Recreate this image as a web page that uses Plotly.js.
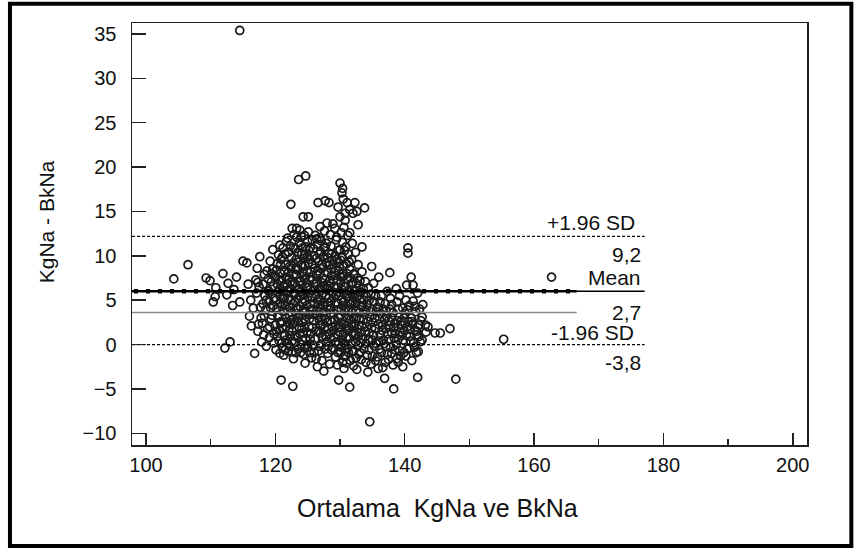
<!DOCTYPE html>
<html><head><meta charset="utf-8">
<script src="https://cdn.plot.ly/plotly-3.0.1.min.js"></script>
<style>html,body{margin:0;padding:0;background:#fff}#chart{width:855px;height:549px}</style>
</head><body><div id="chart"></div>
<script>
// Each pair: [mean of KgNa and BkNa, KgNa - BkNa] — outer and scattered points
const points = [
[104.3,7.4],[106.5,9.0],[109.3,7.5],[109.9,7.2],[110.4,4.8],[110.7,5.4],[110.8,6.4],[111.9,8.0],[112.2,-0.4],[112.5,5.6],[112.7,6.9],[113.0,0.3],[113.4,4.4],[113.6,6.2],[114.0,7.6],[114.5,4.8],[114.5,35.4],[115.0,9.4],[115.6,9.2],
[116.0,3.2],[116.2,5.0],[115.8,6.8],[116.3,2.1],
[116.8,-1.0],[116.6,4.1],[117.0,7.3],
[117.2,8.6],[117.3,1.5],[117.1,5.8],
[117.6,9.9],[117.8,3.0],[117.5,6.5],[117.9,0.3],
[118.1,4.6],[118.3,7.9],[118.0,2.4],[118.4,5.5],
[118.6,-0.2],[118.8,1.8],[118.5,3.9],[118.9,6.1],[118.7,8.3],
[119.1,0.8],[119.3,2.9],[119.0,4.9],[119.4,7.1],[119.2,9.4],
[119.6,10.7],[119.8,1.2],[119.5,3.3],[119.9,5.2],[119.7,6.6],[119.6,8.5],
[120.1,-0.6],[120.3,0.9],[120.0,2.2],[120.2,4.0],[120.4,5.9],[120.1,7.6],[120.3,9.1],
[120.6,1.6],[120.5,3.1],[120.7,4.7],[120.6,6.2],[120.8,8.0],[120.5,10.1],[120.7,11.2],
[120.9,-4.0],[121.0,0.2],[120.9,2.6],[121.1,5.3],[121.0,7.2],[120.9,9.6],
[121.2,10.9],[121.3,-1.2],[121.4,1.1],[121.2,3.7],[121.3,6.0],[121.4,8.3],
[121.6,0.5],[121.7,2.0],[121.5,4.4],[121.8,6.8],[121.6,9.0],[121.7,11.6],[121.9,12.0],
[122.0,-0.8],[122.1,1.5],[122.2,3.2],[122.0,5.1],[122.1,7.4],[122.2,8.8],[122.0,10.4],
[122.4,15.8],[122.5,2.8],[122.3,4.1],[122.4,6.3],[122.5,9.8],[122.3,11.1],
[122.7,-4.7],[122.8,-1.6],[122.6,0.4],[122.7,2.3],[122.9,5.6],[122.8,7.9],[122.6,13.1],[122.9,12.4],
[123.1,-0.9],[123.0,1.0],[123.2,3.5],[123.1,4.8],[123.0,6.9],[123.2,8.6],[123.1,10.8],[123.3,13.1],
[123.6,18.6],[123.5,-0.5],[123.7,1.9],[123.6,3.0],[123.5,5.2],[123.8,7.1],[123.6,9.3],[123.7,11.5],[123.8,12.9],
[124.0,0.0],[124.1,2.5],[123.9,4.3],[124.0,6.0],[124.2,8.1],[124.1,10.2],[124.0,12.2],
[124.3,14.4],[124.4,-1.1],[124.3,1.3],[124.4,3.8],[124.2,5.7],[124.3,7.7],[124.4,9.7],
[124.6,-2.1],[124.7,0.7],[124.5,2.9],[124.6,4.9],[124.8,6.5],[124.6,8.9],[124.7,11.0],
[124.7,19.0],
[125.1,14.4],[125.1,12.7],[125.0,-0.3],[125.2,2.0],[125.1,3.4],[125.0,5.4],[125.3,7.3],[125.1,9.2],[125.2,10.6],
[125.5,1.2],[125.6,4.0],[125.4,6.2],[125.5,8.2],[125.7,11.8],[125.6,-1.5],
[126.0,-0.9],[126.1,0.6],[125.9,2.7],[126.0,4.6],[126.2,6.8],[126.1,8.6],[126.0,10.0],[126.2,12.3],
[126.6,16.0],[126.5,-2.5],[126.7,1.5],[126.5,3.3],[126.6,5.1],[126.4,7.0],[126.7,9.4],[126.5,11.3],
[126.9,13.3],[126.9,-0.2],[127.0,2.2],[126.8,4.1],[127.0,6.1],[126.9,8.0],[127.0,10.5],[126.8,12.0],
[127.2,-1.8],[127.3,0.9],[127.1,3.0],[127.2,5.6],[127.3,7.5],[127.2,9.0],[127.1,11.7],
[127.5,-3.0],[127.6,1.8],[127.4,3.6],[127.5,4.8],[127.6,6.5],[127.4,8.7],[127.5,10.9],[127.6,12.8],
[127.7,16.2],
[128.0,13.7],[128.1,-1.0],[127.9,0.3],[128.0,2.5],[128.1,4.4],[127.9,6.3],[128.0,8.2],[128.1,9.8],[127.9,11.4],
[128.3,16.0],[128.4,-2.2],[128.3,1.2],[128.5,3.4],[128.2,5.2],[128.4,7.2],[128.3,10.3],[128.5,12.4],
[128.7,-0.6],[128.8,2.0],[128.6,4.0],[128.9,5.9],[128.7,7.8],[128.8,9.5],[128.6,11.1],[128.9,13.6],
[129.2,13.1],[129.3,-1.4],[129.1,0.8],[129.2,2.8],[129.4,4.7],[129.1,6.6],[129.3,8.4],[129.2,10.0],[129.4,11.8],
[129.7,15.5],[129.6,-2.3],[129.8,0.1],[129.7,1.9],[129.5,3.9],[129.8,5.5],[129.6,7.3],[129.7,9.3],[129.5,12.1],
[129.8,-4.0],
[130.0,18.2],[130.0,14.4],[130.1,-0.9],[129.9,1.4],[130.0,3.2],[130.2,5.0],[130.1,6.9],[129.9,8.8],[130.0,10.7],[130.2,12.6],
[130.3,17.1],[130.4,-2.0],[130.3,0.5],[130.2,2.5],[130.4,4.4],[130.3,6.2],[130.5,8.0],[130.3,9.9],[130.4,11.5],
[130.4,17.6],
[130.5,16.4],[130.6,-2.7],[130.5,1.1],[130.7,3.7],[130.6,5.8],[130.5,7.7],[130.6,13.2],
[130.8,14.8],[130.8,14.0],[130.9,-1.3],[130.8,0.0],[131.0,2.1],[130.9,4.1],[130.8,6.5],[131.0,9.1],[130.9,11.0],
[131.1,16.0],[131.2,-0.4],[131.1,1.7],[131.3,3.3],[131.2,5.3],[131.1,7.4],[131.3,10.2],[131.2,12.3],
[131.5,15.2],[131.5,12.6],[131.5,-4.8],[131.6,-1.8],[131.4,0.7],[131.6,2.8],[131.5,4.6],[131.7,6.8],[131.5,8.5],
[131.9,-0.8],[132.0,1.3],[131.8,3.6],[131.9,5.6],[132.0,7.0],[131.8,9.6],[131.9,11.4],
[132.0,14.8],[132.1,-2.4],[132.2,2.3],[132.0,4.9],
[132.3,16.0],[132.4,0.3],[132.3,6.1],[132.2,8.0],[132.4,10.4],
[132.6,15.0],[132.6,-2.8],[132.7,1.8],[132.5,3.9],[132.6,5.4],[132.7,7.5],
[132.8,13.5],[132.9,-1.1],[132.8,0.9],[133.0,2.9],[132.9,6.6],[132.8,9.0],
[133.3,-1.7],[133.2,0.2],[133.4,2.1],[133.3,4.3],[133.2,5.9],[133.4,8.2],
[133.4,11.0],
[133.8,15.4],[133.7,-0.5],[133.9,1.5],[133.8,3.4],[133.7,5.0],[133.9,7.1],
[134.3,-3.1],[134.2,-1.2],[134.4,0.6],[134.3,2.6],[134.2,4.5],[134.4,6.4],
[134.6,-8.7],
[134.8,-2.2],[134.9,1.9],[134.7,3.7],[134.8,5.7],[134.9,8.8],
[135.3,-0.2],[135.2,1.1],[135.4,3.0],[135.3,4.8],[135.2,6.9],
[135.9,-2.7],[135.8,-1.4],[136.0,0.4],[135.9,2.3],[135.8,4.2],[136.0,7.6],
[136.4,-0.9],[136.5,1.6],[136.3,3.5],[136.4,5.5],
[136.9,-3.8],[137.0,-2.0],[136.8,0.1],[136.9,2.8],[137.0,4.6],
[137.3,-1.1],[137.4,1.2],[137.2,3.2],[137.3,6.0],
[137.7,8.1],[137.8,-0.3],[137.6,2.2],[137.7,4.0],[137.8,5.2],
[138.3,-5.0],[138.2,-2.3],[138.4,0.7],[138.3,1.9],[138.2,3.6],
[138.8,-1.6],[138.7,0.0],[138.9,2.7],[138.8,4.8],[138.7,6.3],
[139.2,-0.7],[139.3,1.4],[139.1,3.1],[139.2,5.5],
[139.7,-2.5],[139.8,0.5],[139.6,2.2],[139.7,4.1],
[140.2,-1.3],[140.3,1.0],[140.1,3.5],[140.2,5.0],[140.3,6.7],
[140.5,10.9],[140.5,10.3],
[140.7,-0.4],[140.8,0.9],[140.6,2.6],[140.7,4.4],
[141.0,7.6],[141.1,-1.8],[140.9,1.7],[141.0,3.0],
[141.3,6.7],[141.4,0.2],[141.2,2.3],[141.3,4.9],
[141.8,-0.9],[141.9,1.1],[141.7,3.7],
[142.0,-3.7],[142.1,-0.8],[141.9,1.5],[142.0,5.8],
[142.4,0.3],[142.5,2.7],[142.3,4.0],
[142.7,0.5],[142.7,3.1],[142.8,4.5],
[143.3,1.4],[143.2,2.2],[143.6,2.0],[144.7,1.3],[145.5,1.3],[147.0,1.8],[147.9,-3.9],[155.3,0.6],[162.7,7.6]
];
// Additional points read from the dense core of the cloud
const corePoints = [
[117.4,2.3],[117.7,4.2],[117.3,7.0],[118.2,1.1],[118.3,3.2],[118.1,6.8],[118.6,5.0],[118.9,7.4],[119.1,2.0],[119.3,4.1],[119.0,6.0],[119.4,8.0],[119.8,0.2],[119.7,4.4],[119.9,7.7],
[120.2,1.5],[120.4,3.3],[120.1,5.0],[120.3,6.8],[120.2,8.4],[120.7,-1.0],[120.6,0.4],[120.8,2.4],[120.7,5.5],[120.6,7.3],[120.8,9.0],
[121.1,-0.3],[121.1,1.8],[121.0,4.3],[121.2,6.6],[121.1,9.9],[121.5,-0.6],[121.6,3.0],[121.4,5.2],[121.6,7.6],[121.5,10.2],[121.9,0.1],[121.9,2.6],[121.8,4.0],[121.9,6.1],[122.0,8.1],
[122.2,-0.2],[122.3,1.0],[122.2,2.4],[122.4,5.0],[122.3,7.0],[122.4,8.6],[122.6,-0.8],[122.6,1.5],[122.5,3.6],[122.7,4.6],[122.6,6.8],[122.8,9.2],[122.8,10.9],
[123.0,0.2],[123.0,2.5],[123.2,4.1],[123.1,5.8],[123.3,7.9],[123.2,9.6],[123.3,12.1],[123.4,0.8],[123.5,2.6],[123.4,4.0],[123.5,6.2],[123.4,8.4],[123.5,10.4],
[123.9,-0.9],[123.8,1.2],[123.9,3.3],[123.8,5.4],[123.9,7.2],[124.0,9.0],[123.9,11.2],[124.2,0.5],[124.1,1.8],[124.2,4.8],[124.1,6.7],[124.2,8.8],[124.2,10.9],
[124.5,-0.4],[124.5,1.9],[124.6,3.7],[124.4,5.6],[124.5,7.4],[124.5,10.1],[124.5,12.3],[124.9,0.0],[124.9,1.4],[124.9,4.4],[125.0,6.4],[124.9,8.2],[124.9,9.9],[125.0,11.6],
[125.3,-0.9],[125.4,0.6],[125.3,2.9],[125.4,4.6],[125.3,5.8],[125.4,7.6],[125.3,9.6],[125.4,10.9],[125.8,0.0],[125.7,1.9],[125.8,3.4],[125.7,5.3],[125.8,7.3],[125.7,9.1],[125.9,10.8],
[126.3,-1.6],[126.3,1.5],[126.4,3.8],[126.3,5.6],[126.4,7.9],[126.3,9.7],[126.4,11.9],[126.7,-0.7],[126.8,2.7],[126.7,4.5],[126.8,6.3],[126.6,8.3],[126.8,10.2],
[127.1,0.0],[127.0,1.3],[127.1,4.0],[127.0,5.0],[127.1,7.0],[127.0,8.6],[127.3,2.3],[127.4,4.4],[127.3,6.4],[127.4,9.9],
[127.7,-0.5],[127.8,0.9],[127.7,2.9],[127.8,5.4],[127.7,7.3],[127.8,9.2],[127.7,11.0],[128.2,-0.2],[128.2,1.8],[128.3,3.9],[128.2,6.6],[128.3,8.9],
[128.6,0.7],[128.5,2.7],[128.6,4.9],[128.5,6.9],[128.6,8.5],[128.7,10.2],[129.0,-0.4],[129.0,1.6],[129.0,3.5],[129.0,5.3],[129.0,7.3],[129.0,9.0],
[129.4,0.3],[129.3,2.1],[129.4,5.6],[129.3,7.8],[129.5,9.6],[129.7,-0.9],[129.6,1.1],[129.8,3.0],[129.7,4.6],[129.6,6.4],[129.8,8.3],[129.8,10.6],
[130.2,-0.3],[130.1,2.0],[130.2,4.0],[130.0,5.9],[130.2,7.6],[130.1,9.5],[130.6,-1.3],[130.6,0.2],[130.7,2.3],[130.6,4.8],[130.7,6.6],[130.6,8.9],[130.7,10.6],
[131.0,-2.1],[131.0,0.7],[131.0,3.0],[131.0,5.7],[131.1,8.0],[131.3,-0.9],[131.4,1.9],[131.3,4.0],[131.4,6.1],[131.4,9.3],[131.7,0.1],[131.8,2.1],[131.7,4.6],[131.6,7.5],
[132.1,-0.7],[132.2,1.0],[132.1,3.0],[132.2,5.3],[132.1,7.9],[132.5,-1.5],[132.4,1.2],[132.5,2.9],[132.4,4.6],[132.5,6.9],[132.8,-0.1],[132.9,2.2],[132.9,4.0],[132.8,5.5],
[133.1,-0.9],[133.1,1.3],[133.0,3.6],[133.1,5.1],[133.1,7.2],[133.5,0.6],[133.6,2.8],[133.5,4.4],[133.6,6.3],[134.0,-2.0],[134.0,0.1],[134.1,2.0],[134.0,3.9],[134.1,5.4],
[134.5,-0.6],[134.5,1.3],[134.6,3.1],[134.5,5.0],[135.0,-1.3],[135.0,0.5],[135.1,2.5],[135.0,4.0],[135.5,-1.8],[135.6,0.1],[135.5,1.8],[135.6,3.7],[135.5,5.5],
[136.1,-0.5],[136.2,1.1],[136.1,2.9],[136.2,4.8],[136.6,-2.6],[136.7,0.5],[136.6,2.2],[136.7,4.0],[137.1,-0.2],[137.1,1.8],[137.1,3.8],[137.5,-1.7],[137.5,0.6],[137.5,2.7],
[138.0,-1.0],[138.0,1.3],[138.0,3.0],[138.0,4.5],[138.5,-0.6],[138.5,1.2],[138.5,2.4],[139.0,-2.0],[139.0,0.6],[139.0,2.0],[139.0,4.0],[139.4,-1.3],[139.5,1.0],[139.4,2.6],
[139.9,-0.9],[139.9,1.6],[139.9,3.0],[140.4,-0.5],[140.4,2.0],[140.4,3.9],[140.9,0.4],[141.1,2.6],[141.5,-0.3],[141.6,1.6],[141.6,4.3],[142.2,0.9],[142.2,2.2]
];
const allPoints = points.concat(corePoints);
const meanX = allPoints.map(p => p[0]);
const diffY = allPoints.map(p => p[1]);

// Reference lines (y values) and their x extents
const upperLimit = 12.2;
const meanDiff = 6.0;
const thinLine = 3.6;
const lowerLimit = 0.0;
const lineStartX = 96.3, lineMidX = 166.6, lineEndX = 177.1;

// Labels beside the lines
const upperLabels = ['+1.96 SD', '9,2'];
const meanLabels = ['Mean', '2,7'];
const lowerLabels = ['-1.96 SD', '-3,8'];
const xTitle = 'Ortalama\u00a0 KgNa ve BkNa';
const yTitle = 'KgNa - BkNa';

const ink = '#1a1a1a';
const traces = [
  {x: meanX, y: diffY, type: 'scatter', mode: 'markers',
   marker: {symbol: 'circle-open', size: 8, color: ink, line: {width: 1.7, color: ink}}},
  {x: [lineStartX, lineEndX], y: [upperLimit, upperLimit], mode: 'lines', line: {color: '#000', width: 1.2, dash: '3px,2px'}},
  {x: [lineStartX, lineEndX], y: [lowerLimit, lowerLimit], mode: 'lines', line: {color: '#000', width: 1.2, dash: '3px,2px'}},
  {x: [lineStartX, lineMidX], y: [thinLine, thinLine], mode: 'lines', line: {color: '#8a8a8a', width: 1.5}},
  {x: [lineStartX, lineEndX], y: [meanDiff, meanDiff], mode: 'lines', line: {color: '#000', width: 1.6}},
  {x: [lineStartX, lineMidX], y: [meanDiff, meanDiff], mode: 'lines', line: {color: '#000', width: 2.6}},
  {x: [lineStartX, lineMidX], y: [meanDiff, meanDiff], mode: 'lines', line: {color: '#000', width: 4.5, dash: '4px,8px'}}
];

function lbl(text, y, yshift, xshift) {
  return {text: text, x: lineEndX, y: y, xref: 'x', yref: 'y', xanchor: 'right', yanchor: 'middle',
          showarrow: false, xshift: xshift, yshift: yshift, font: {size: 21, color: '#111'}};
}

const layout = {
  width: 855, height: 549,
  margin: {l: 132, r: 48, t: 23, b: 104},
  paper_bgcolor: '#fff', plot_bgcolor: '#fff',
  showlegend: false,
  font: {family: '"Liberation Sans", Arial, sans-serif', color: '#111', size: 20},
  xaxis: {range: [97.84, 202.2], tick0: 0, dtick: 20, ticks: 'inside', ticklen: 12, tickwidth: 1.5,
          tickcolor: '#222', showline: true, linecolor: '#222', linewidth: 1.5, mirror: true,
          showgrid: false, zeroline: false, ticklabelstandoff: 1,
          minor: {tick0: 0, dtick: 10, ticks: 'inside', ticklen: 6, tickwidth: 1.5, tickcolor: '#222', showgrid: false},
          tickfont: {size: 20}},
  yaxis: {range: [-11.32, 36.24], tick0: 0, dtick: 5, ticks: 'inside', ticklen: 14, tickwidth: 1.5,
          tickcolor: '#222', showline: true, linecolor: '#222', linewidth: 1.5, mirror: true,
          showgrid: false, zeroline: false, ticklabelstandoff: 10, tickfont: {size: 20}},
  annotations: [
    lbl(upperLabels[0], upperLimit, 14, -8),
    lbl(upperLabels[1], upperLimit, -18, -2),
    lbl(meanLabels[0], meanDiff, 14, -2),
    lbl(meanLabels[1], meanDiff, -21, -2),
    lbl(lowerLabels[0], lowerLimit, 12, -9),
    lbl(lowerLabels[1], lowerLimit, -18, -2),
    {text: xTitle, xref: 'paper', yref: 'paper', x: 0.452, y: -0.149, xanchor: 'center', yanchor: 'middle',
     showarrow: false, font: {size: 25, color: '#111'}},
    {text: yTitle, xref: 'paper', yref: 'paper', x: -0.1275, y: 0.53, xanchor: 'center', yanchor: 'middle',
     textangle: -90, showarrow: false, font: {size: 21, color: '#111'}}
  ],
  shapes: [
    {type: 'rect', xref: 'paper', yref: 'paper', x0: -0.1808, x1: 1.0657, y0: -0.2395, y1: 1.0458,
     line: {color: '#000', width: 4}, fillcolor: 'rgba(0,0,0,0)'}
  ]
};

Plotly.newPlot('chart', traces, layout, {staticPlot: true, displayModeBar: false});
</script>
</body></html>
